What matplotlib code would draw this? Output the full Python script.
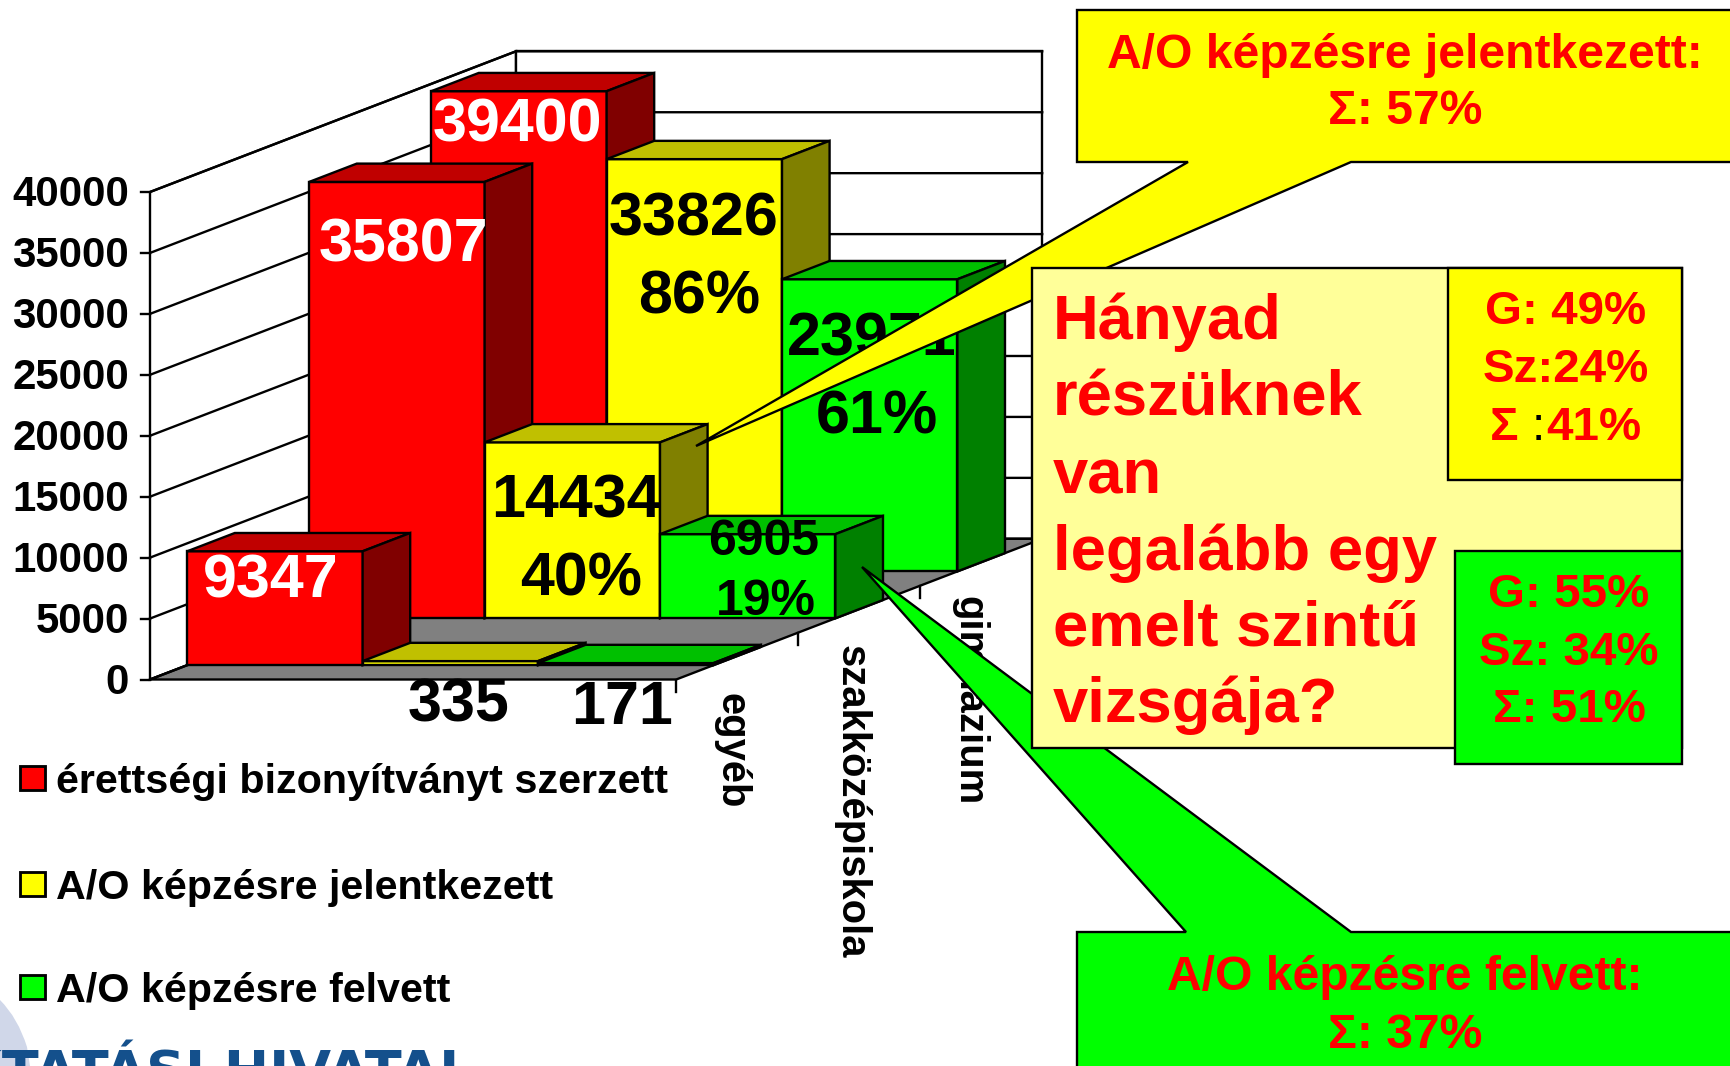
import matplotlib
matplotlib.use("Agg")
import matplotlib.pyplot as plt
from matplotlib.patches import Polygon, Rectangle, PathPatch
from matplotlib.path import Path

plt.rcParams['font.family'] = ['Liberation Sans', 'DejaVu Sans']
plt.rcParams['font.weight'] = 'bold'

# ---- data -------------------------------------------------------------
categories = ['egyéb', 'szakközépiskola', 'gimnázium']
series_names = ['érettségi bizonyítványt szerzett', 'A/O képzésre jelentkezett', 'A/O képzésre felvett']
erettsegi = [9347, 35807, 39400]
jelentkezett = [335, 14434, 33826]
felvett = [171, 6905, 23971]
y_ticks = [0, 5000, 10000, 15000, 20000, 25000, 30000, 35000, 40000]
jel_pct = [None, '40%', '86%']
felv_pct = [None, '19%', '61%']
question = ['Hányad', 'részüknek', 'van', 'legalább egy', 'emelt szintű', 'vizsgája?']

# ---- style ------------------------------------------------------------
FACES = [('#FF0000', '#C00000', '#800000'),
         ('#FFFF00', '#C0C000', '#808000'),
         ('#00FF00', '#00C000', '#008000')]
LW = 1.7
X0, Y0 = 150.0, 679.5        # front-left floor corner, pixels
SER_W = 175.4                # width of one series slot
CAT_DX, CAT_DY = 122.0, -46.9  # depth step of one category
V_PX = 487.5 / 40000.0
GAP = 0.305                  # front gap inside a category slot
DEPTH = 0.39                 # bar depth inside a category slot

def proj(s, c, v=0.0):
    """series pos, category pos, value -> axes coordinate"""
    return (X0 + s * SER_W + c * CAT_DX, Y0 + c * CAT_DY - v * V_PX)

def px(size):
    return size * 0.72

fig = plt.figure(figsize=(17.30, 10.66), dpi=100, facecolor='white')
ax = fig.add_axes([0, 0, 1, 1])
ax.set_xlim(0, 1730)
ax.set_ylim(1066, 0)
ax.axis('off')
n_s, n_c = len(series_names), len(categories)

def poly(pts, fc, z=2, ec='black', lw=LW):
    ax.add_patch(Polygon(pts, closed=True, fc=fc, ec=ec, lw=lw, zorder=z, joinstyle='miter'))

# walls and floor
vmax = y_ticks[-1]
poly([proj(0, 0), proj(0, n_c), proj(0, n_c, vmax), proj(0, 0, vmax)], 'white', 1)
poly([proj(0, n_c), proj(n_s, n_c), proj(n_s, n_c, vmax), proj(0, n_c, vmax)], 'white', 1)
poly([proj(0, 0), proj(n_s, 0), proj(n_s, n_c), proj(0, n_c)], '#808080', 1)
for t in y_ticks:
    pts = [proj(0, 0, t), proj(0, n_c, t), proj(n_s, n_c, t)]
    ax.plot(*zip(*pts), color='black', lw=LW, zorder=1.5, solid_joinstyle='miter')
    x, y = proj(0, 0, t)
    ax.plot([x - 9, x], [y, y], color='black', lw=LW, zorder=1.5)
    ax.text(x - 21, y - 1, str(t), ha='right', va='center_baseline', fontsize=px(42), color='black', zorder=3)
for c in range(n_c + 1):
    x, y = proj(n_s, c)
    ax.plot([x, x], [y, y + 12], color='black', lw=LW, zorder=1.5)

# bars, back to front, left to right
all_series = [erettsegi, jelentkezett, felvett]
for c in reversed(range(n_c)):
    c0, c1 = c + GAP, c + GAP + DEPTH
    for s in range(n_s):
        v = all_series[s][c]
        front, top, side = FACES[s]
        z = 2 + (n_c - c) + s * 0.1
        poly([proj(s, c0), proj(s + 1, c0), proj(s + 1, c0, v), proj(s, c0, v)], front, z)
        poly([proj(s, c0, v), proj(s + 1, c0, v), proj(s + 1, c1, v), proj(s, c1, v)], top, z)
        poly([proj(s + 1, c0), proj(s + 1, c1), proj(s + 1, c1, v), proj(s + 1, c0, v)], side, z)

# data labels
LZ = 8
def lab(x, y, t, size=61, color='black', z=LZ):
    ax.text(x, y, t, ha='center', va='center_baseline', fontsize=px(size), color=color, zorder=z)

lab(517, 120, str(erettsegi[2]), color='white')
lab(403, 240, str(erettsegi[1]), color='white')
lab(271, 575, str(erettsegi[0]), color='white')
lab(694, 214, str(jelentkezett[2]))
lab(699, 291, jel_pct[2])
lab(872, 333, str(felvett[2]))
lab(877, 412, felv_pct[2])
lab(576, 495, str(jelentkezett[1]))
lab(581, 573, jel_pct[1])
lab(764, 537, str(felvett[1]), 50)
lab(766, 597, felv_pct[1], 50)
lab(459, 699, str(jelentkezett[0]))
lab(622, 702, str(felvett[0]))

# category labels
cat_pos = [(731, 693), (852, 645), (969, 596)]
for name, (x, y) in zip(categories, cat_pos):
    ax.text(x, y, name, rotation=-90, ha='center', va='top', fontsize=px(40), color='black', zorder=LZ)

# legend
for name, fc, y in zip(series_names, [f[0] for f in FACES], [778, 884, 987]):
    ax.add_patch(Rectangle((20, y - 12), 25, 24, fc=fc, ec='black', lw=LW * 1.2, zorder=3))
    ax.text(56, y, name, ha='left', va='center_baseline', fontsize=px(41.3), color='black', zorder=3)

# logo fragment
ax.add_patch(PathPatch(Path([(0, 1000), (18, 1018), (27, 1047), (30, 1066), (0, 1066), (0, 1000)],
                            [Path.MOVETO, Path.CURVE3, Path.CURVE3, Path.LINETO, Path.LINETO, Path.CLOSEPOLY]),
                       fc='#D0D7E9', ec='none', zorder=2))
ax.text(474, 1090, 'OKTATÁSI HIVATAL', ha='right', va='baseline', fontsize=px(54), color='#14508C',
        family='DejaVu Sans', zorder=3, clip_on=True)

# callouts
RED = '#FF0000'
R = 1760
poly([(1077, 932), (1186, 932), (862, 567), (1351, 932), (R, 932), (R, 1090), (1077, 1090)], '#00FF00', 20)
ax.text(1405, 973, 'A/O képzésre felvett:', ha='center', va='center_baseline', fontsize=px(48), color=RED, zorder=21)
ax.text(1405, 1030, 'Σ: 37%', ha='center', va='center_baseline', fontsize=px(48), color=RED, zorder=21)
poly([(1077, 10), (R, 10), (R, 162), (1351, 162), (696, 446), (1188, 162), (1077, 162)], '#FFFF00', 22)
ax.text(1405, 51, 'A/O képzésre jelentkezett:', ha='center', va='center_baseline', fontsize=px(48), color=RED, zorder=23)
ax.text(1405, 107, 'Σ: 57%', ha='center', va='center_baseline', fontsize=px(48), color=RED, zorder=23)

# question box
ax.add_patch(Rectangle((1032, 268), 650, 480, fc='#FFFF99', ec='black', lw=LW, zorder=24))
for t, y in zip(question, [316, 393, 471, 547, 623, 699]):
    ax.text(1053, y, t, ha='left', va='center_baseline', fontsize=px(63.4), color=RED, zorder=25)

ax.add_patch(Rectangle((1448, 268), 234, 212, fc='#FFFF00', ec='black', lw=LW, zorder=26))
for t, y in zip(['G: 49%', 'Sz:24%'], [307, 365]):
    ax.text(1566, y, t, ha='center', va='center_baseline', fontsize=px(47.5), color=RED, zorder=27)
ax.text(1518, 423, 'Σ', ha='right', va='center_baseline', fontsize=px(47.5), color=RED, zorder=27)
ax.text(1532, 423, ':', ha='left', va='center_baseline', fontsize=px(47.5), color='black', fontweight='normal', zorder=27)
ax.text(1546, 423, '41%', ha='left', va='center_baseline', fontsize=px(47.5), color=RED, zorder=27)

ax.add_patch(Rectangle((1455, 551), 227, 213, fc='#00FF00', ec='black', lw=LW, zorder=26))
for t, y in zip(['G: 55%', 'Sz: 34%', 'Σ: 51%'], [590, 648, 705]):
    ax.text(1569, y, t, ha='center', va='center_baseline', fontsize=px(47.5), color=RED, zorder=27)

fig.savefig('out.png', dpi=100, facecolor='white')
